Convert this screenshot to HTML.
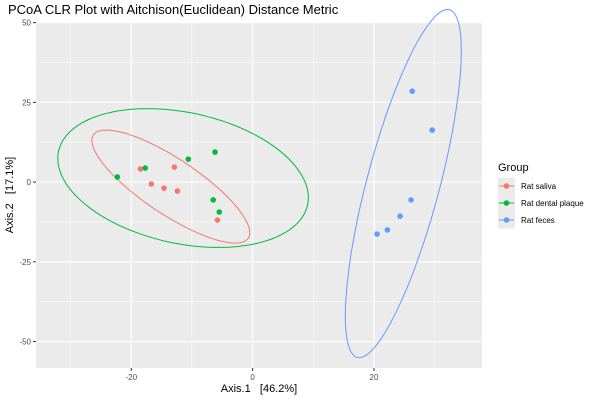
<!DOCTYPE html>
<html><head><meta charset="utf-8"><style>body{margin:0;background:#fff}svg{display:block;font-family:"Liberation Sans",Arial,sans-serif}text{white-space:pre}</style></head>
<body>
<svg id="c" width="600" height="400" xmlns="http://www.w3.org/2000/svg"></svg>
<script>
const groups=["Rat saliva","Rat dental plaque","Rat feces"];
const colors=["#F8766D","#00BA38","#619CFF"];
const salivaX=[-18.5,-12.9,-16.7,-14.6,-12.4,-5.8];
const salivaY=[4.1,4.7,-0.6,-1.9,-2.8,-11.9];
const plaqueX=[-22.3,-17.7,-10.6,-6.2,-6.5,-5.5];
const plaqueY=[1.6,4.4,7.2,9.4,-5.6,-9.4];
const fecesX=[26.3,29.6,26.1,24.3,22.2,20.5];
const fecesY=[28.5,16.3,-5.6,-10.7,-15.0,-16.3];
const xTicks=[-20,0,20];
const yTicks=[-50,-25,0,25,50];
const L=36,R=482,T=22,B=368,xmin=-35.7,xmax=37.8,ymin=-58.3,ymax=50.2;
const sx=v=>L+(v-xmin)/(xmax-xmin)*(R-L);
const sy=v=>B-(v-ymin)/(ymax-ymin)*(B-T);
const svg=document.getElementById('c');const NS="http://www.w3.org/2000/svg";
function mk(t,a,p){const e=document.createElementNS(NS,t);for(const k in a)e.setAttribute(k,a[k]);(p||svg).appendChild(e);return e;}
const panel=mk('rect',{x:L,y:T,width:R-L,height:B-T,fill:'#EBEBEB'});

[-30,-10,10,30].forEach(v=>mk('line',{x1:sx(v),x2:sx(v),y1:T,y2:B,stroke:'#fff','stroke-width':0.5}));
[-37.5,-12.5,12.5,37.5].forEach(v=>mk('line',{x1:L,x2:R,y1:sy(v),y2:sy(v),stroke:'#fff','stroke-width':0.5}));
xTicks.forEach(v=>{const g=mk('line',{x1:sx(v),x2:sx(v),y1:T,y2:B,stroke:'#fff','stroke-width':1.1});
mk('line',{x1:sx(v),x2:sx(v),y1:B,y2:B+3,stroke:'#333'});
const t=mk('text',{x:sx(v),y:B+12,'font-size':8,fill:'#4D4D4D','text-anchor':'middle'});t.textContent=v;});
yTicks.forEach(v=>{const g=mk('line',{x1:L,x2:R,y1:sy(v),y2:sy(v),stroke:'#fff','stroke-width':1.1});
mk('line',{x1:L-3,x2:L,y1:sy(v),y2:sy(v),stroke:'#333'});
const t=mk('text',{x:L-5,y:sy(v)+3,'font-size':8,fill:'#4D4D4D','text-anchor':'end'});t.textContent=v;});
const data=[[salivaX,salivaY],[plaqueX,plaqueY],[fecesX,fecesY]];
const rad=2.95;
data.forEach((d,gi)=>{const [X,Y]=d,n=X.length;
const mx=X.reduce((a,b)=>a+b)/n,my=Y.reduce((a,b)=>a+b)/n;
let a=0,b=0,c=0;for(let i=0;i<n;i++){a+=(X[i]-mx)**2;b+=(X[i]-mx)*(Y[i]-my);c+=(Y[i]-my)**2;}
a/=n-1;b/=n-1;c/=n-1;
const l11=Math.sqrt(a),l21=b/l11,l22=Math.sqrt(Math.max(c-l21*l21,0));
let pts=[];for(let k=0;k<=100;k++){const t=k/100*2*Math.PI,u=Math.cos(t)*rad,w=Math.sin(t)*rad;
pts.push(sx(mx+l11*u).toFixed(1)+','+sy(my+l21*u+l22*w).toFixed(1));}
const e=mk('polyline',{points:pts.join(' '),fill:'none',stroke:colors[gi],'stroke-width':1});

for(let i=0;i<n;i++){const p=mk('circle',{cx:sx(X[i]),cy:sy(Y[i]),r:2.8,fill:colors[gi]});
}
});
function txt(s,a,name){const t=mk('text',a);t.textContent=s;return t;}
txt('PCoA CLR Plot with Aitchison(Euclidean) Distance Metric',{x:8,y:14,'font-size':13,fill:'#000'},'chart-title');
txt('Axis.1\u00a0\u00a0\u00a0[46.2%]',{x:(L+R)/2,y:392,'font-size':11,fill:'#000','text-anchor':'middle'},'x-axis-title');
txt('Axis.2\u00a0\u00a0\u00a0[17.1%]',{x:0,y:0,'font-size':11,fill:'#000','text-anchor':'middle',transform:`translate(13,${(T+B)/2}) rotate(-90)`},'y-axis-title');
txt('Group',{x:498,y:171,'font-size':11,fill:'#000'},'legend-title');
groups.forEach((g,i)=>{const y=186+i*17;
const k=mk('rect',{x:498,y:y-8.5,width:17,height:17,fill:'#EBEBEB'});
mk('line',{x1:499,x2:514,y1:y,y2:y,stroke:colors[i],'stroke-width':1});
mk('circle',{cx:506.5,cy:y,r:2.8,fill:colors[i]});
txt(g,{x:521,y:y+3,'font-size':8,fill:'#000'},'legend-entry');});
</script>
</body></html>
